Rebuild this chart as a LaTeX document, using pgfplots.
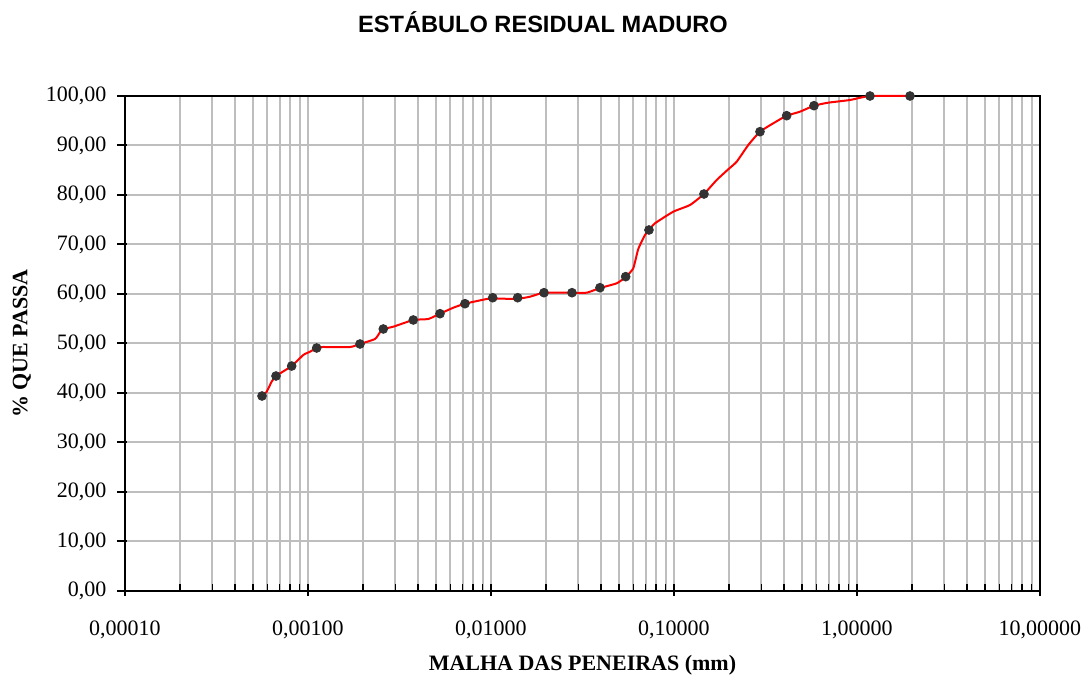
\documentclass[border=0pt]{standalone}
\usepackage{fontspec}
\setmainfont{Liberation Serif}
\newfontfamily\arialfont{Liberation Sans}
\usepackage{pgfplots}
\pgfplotsset{compat=1.18}
\definecolor{gridgray}{HTML}{BEBEBE}
\definecolor{dotgray}{HTML}{333333}
\begin{document}
\fontsize{11}{13}\selectfont
\begin{tikzpicture}
\useasboundingbox (-62.5pt,-44pt) rectangle (481.5pt,295.5pt);
\begin{axis}[
  at={(0,0)}, anchor=south west,
  scale only axis, width=457.5pt, height=247.5pt,
  xmode=log, xmin=1e-4, xmax=10, ymin=0, ymax=100,
  clip=false,
  axis line style={line width=1pt, black},
  xtick={1e-4,1e-3,1e-2,1e-1,1,10},
  xticklabels={{0,00010},{0,00100},{0,01000},{0,10000},{1,00000},{10,00000}},
  ytick={0,10,20,30,40,50,60,70,80,90,100},
  yticklabels={{0,00},{10,00},{20,00},{30,00},{40,00},{50,00},{60,00},{70,00},{80,00},{90,00},{100,00}},
  xtick pos=bottom, ytick pos=left,
  tick align=inside,
  major tick length=5pt, minor tick length=3.5pt,
  major x tick style={line width=1pt, black, yshift=-2.5pt},
  minor x tick style={line width=0.8pt, black},
  major y tick style={line width=1pt, black, xshift=-4pt},
  xmajorgrids, xminorgrids, ymajorgrids,
  major grid style={line width=1pt, gridgray},
  minor grid style={line width=1pt, gridgray},
  xticklabel style={font=\fontsize{11}{13}\selectfont, yshift=-11pt},
  yticklabel style={font=\fontsize{11}{13}\selectfont, xshift=-5.5pt},
  xlabel={\textbf{MALHA DAS PENEIRAS (mm)}},
  xlabel style={at={(axis description cs:0.5,-0.1495)}, anchor=center, font=\fontsize{11}{13}\selectfont},
  ylabel={\textbf{\% QUE PASSA}},
  ylabel style={at={(axis description cs:-0.1126,0.5)}, anchor=center, font=\fontsize{11}{13}\selectfont},
]
\addplot[red, line width=1pt, smooth, tension=0.3] coordinates {
(5.607e-4,39.39) (5.946e-4,40.26) (6.33e-4,42.28) (6.686e-4,43.43) (8.144e-4,45.45)
(9.425e-4,47.68) (1.0254e-3,48.34) (1.1155e-3,49.09) (1.188e-3,49.29) (1.696e-3,49.29)
(1.924e-3,49.90) (2.323e-3,50.91) (2.474e-3,52.26) (2.579e-3,52.93) (2.924e-3,53.39)
(3.762e-3,54.75) (4.544e-3,54.95) (5.264e-3,56.02) (6.223e-3,57.23) (7.209e-3,58.04)
(9.473e-3,58.99) (1.0217e-2,59.05) (1.3989e-2,59.05) (1.633e-2,59.45) (1.9485e-2,60.26)
(2.771e-2,60.26) (3.334e-2,60.26) (3.94e-2,61.21) (4.863e-2,62.16) (5.445e-2,63.43)
(5.99e-2,65.19) (6.38e-2,69.09) (6.94e-2,71.92) (7.299e-2,72.93) (7.872e-2,74.28)
(9.913e-2,76.63) (0.1223,77.98) (0.1458,80.20) (0.1711,83.03) (0.198,85.19)
(0.2201,86.73) (0.2547,90.10) (0.2951,92.79) (0.3564,94.69) (0.4127,96.02)
(0.4882,96.83) (0.5821,98.04) (0.6969,98.65) (0.9155,99.19) (1.1776,100) (1.948,100)
};
\addplot[only marks, mark=*, mark size=2.2pt, mark options={fill=dotgray, draw=dotgray}] coordinates {
(5.607e-4,39.39) (6.686e-4,43.43) (8.144e-4,45.45) (1.1155e-3,49.09) (1.924e-3,49.90)
(2.579e-3,52.93) (3.762e-3,54.75) (5.264e-3,56.02) (7.209e-3,58.04) (1.0217e-2,59.25)
(1.3989e-2,59.25) (1.9485e-2,60.26) (2.771e-2,60.26) (3.94e-2,61.27) (5.445e-2,63.50)
(7.299e-2,72.93) (0.1458,80.20) (0.2951,92.79) (0.4127,96.02) (0.5821,98.04)
(1.1776,100) (1.948,100)
};
\end{axis}
\node[font=\arialfont\bfseries\fontsize{11.8}{14}\selectfont, anchor=center] at (209pt,284.5pt) {ESTÁBULO RESIDUAL MADURO};
\end{tikzpicture}
\end{document}
